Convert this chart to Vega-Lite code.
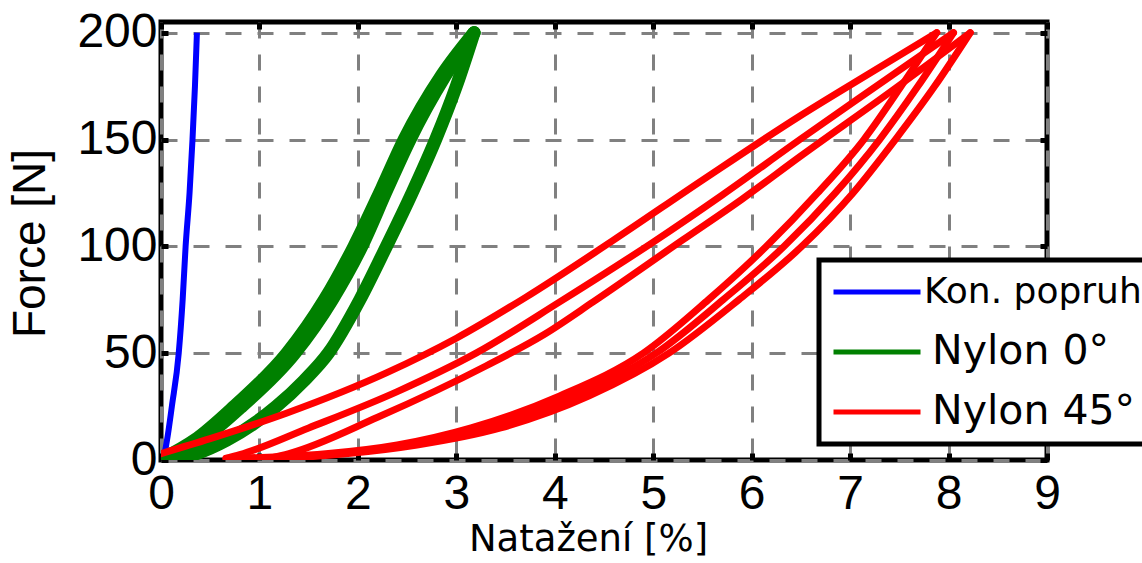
{
  "$schema": "https://vega.github.io/schema/vega-lite/v6.json",
  "width": 886,
  "height": 438,
  "autosize": {"type": "none"},
  "padding": {"left": 161, "top": 22, "right": 95, "bottom": 103},
  "background": "white",
  "data": {"values": [
    {"s":"Kon. popruh","g":"b","i":0,"x":0,"y":0},
    {"s":"Kon. popruh","g":"b","i":1,"x":0.03,"y":2},
    {"s":"Kon. popruh","g":"b","i":2,"x":0.06,"y":9},
    {"s":"Kon. popruh","g":"b","i":3,"x":0.11,"y":25},
    {"s":"Kon. popruh","g":"b","i":4,"x":0.18,"y":50},
    {"s":"Kon. popruh","g":"b","i":5,"x":0.22,"y":75},
    {"s":"Kon. popruh","g":"b","i":6,"x":0.25,"y":100},
    {"s":"Kon. popruh","g":"b","i":7,"x":0.29,"y":125},
    {"s":"Kon. popruh","g":"b","i":8,"x":0.32,"y":150},
    {"s":"Kon. popruh","g":"b","i":9,"x":0.345,"y":175},
    {"s":"Kon. popruh","g":"b","i":10,"x":0.365,"y":200},

    {"s":"Nylon 0°","g":"gL","i":0,"x":0.13,"y":0},
    {"s":"Nylon 0°","g":"gL","i":1,"x":0.3,"y":2},
    {"s":"Nylon 0°","g":"gL","i":2,"x":0.67,"y":9.3},
    {"s":"Nylon 0°","g":"gL","i":3,"x":1.17,"y":25},
    {"s":"Nylon 0°","g":"gL","i":4,"x":1.45,"y":37},
    {"s":"Nylon 0°","g":"gL","i":5,"x":1.7,"y":50},
    {"s":"Nylon 0°","g":"gL","i":6,"x":2.02,"y":75},
    {"s":"Nylon 0°","g":"gL","i":7,"x":2.29,"y":100},
    {"s":"Nylon 0°","g":"gL","i":8,"x":2.55,"y":125},
    {"s":"Nylon 0°","g":"gL","i":9,"x":2.79,"y":150},
    {"s":"Nylon 0°","g":"gL","i":10,"x":3.0,"y":175},
    {"s":"Nylon 0°","g":"gL","i":11,"x":3.18,"y":200},

    {"s":"Nylon 0°","g":"gA","i":0,"x":3.18,"y":200},
    {"s":"Nylon 0°","g":"gA","i":1,"x":2.85,"y":180},
    {"s":"Nylon 0°","g":"gA","i":2,"x":2.47,"y":150},
    {"s":"Nylon 0°","g":"gA","i":3,"x":2.24,"y":127},
    {"s":"Nylon 0°","g":"gA","i":4,"x":1.96,"y":100},
    {"s":"Nylon 0°","g":"gA","i":5,"x":1.66,"y":75},
    {"s":"Nylon 0°","g":"gA","i":6,"x":1.28,"y":50},
    {"s":"Nylon 0°","g":"gA","i":7,"x":0.74,"y":25},
    {"s":"Nylon 0°","g":"gA","i":8,"x":0.34,"y":9.3},
    {"s":"Nylon 0°","g":"gA","i":9,"x":0.03,"y":1},

    {"s":"Nylon 0°","g":"gB","i":0,"x":3.18,"y":200},
    {"s":"Nylon 0°","g":"gB","i":1,"x":2.89,"y":180},
    {"s":"Nylon 0°","g":"gB","i":2,"x":2.53,"y":150},
    {"s":"Nylon 0°","g":"gB","i":3,"x":2.30,"y":127},
    {"s":"Nylon 0°","g":"gB","i":4,"x":2.04,"y":100},
    {"s":"Nylon 0°","g":"gB","i":5,"x":1.74,"y":75},
    {"s":"Nylon 0°","g":"gB","i":6,"x":1.36,"y":50},
    {"s":"Nylon 0°","g":"gB","i":7,"x":0.82,"y":25},
    {"s":"Nylon 0°","g":"gB","i":8,"x":0.41,"y":9.3},
    {"s":"Nylon 0°","g":"gB","i":9,"x":0.08,"y":1},

    {"s":"Nylon 45°","g":"r1a","i":0,"x":0,"y":3},
    {"s":"Nylon 45°","g":"r1a","i":1,"x":0.5,"y":10},
    {"s":"Nylon 45°","g":"r1a","i":2,"x":1.28,"y":22},
    {"s":"Nylon 45°","g":"r1a","i":3,"x":2.3,"y":41},
    {"s":"Nylon 45°","g":"r1a","i":4,"x":3.0,"y":57},
    {"s":"Nylon 45°","g":"r1a","i":5,"x":3.7,"y":76},
    {"s":"Nylon 45°","g":"r1a","i":6,"x":4.6,"y":103},
    {"s":"Nylon 45°","g":"r1a","i":7,"x":5.5,"y":131},
    {"s":"Nylon 45°","g":"r1a","i":8,"x":6.49,"y":161},
    {"s":"Nylon 45°","g":"r1a","i":9,"x":7.2,"y":181},
    {"s":"Nylon 45°","g":"r1a","i":10,"x":7.88,"y":200},
    {"s":"Nylon 45°","g":"r1b","i":0,"x":7.88,"y":200},
    {"s":"Nylon 45°","g":"r1b","i":1,"x":7.52,"y":175},
    {"s":"Nylon 45°","g":"r1b","i":2,"x":7.14,"y":150},
    {"s":"Nylon 45°","g":"r1b","i":3,"x":6.67,"y":125},
    {"s":"Nylon 45°","g":"r1b","i":4,"x":6.15,"y":100},
    {"s":"Nylon 45°","g":"r1b","i":5,"x":5.56,"y":75},
    {"s":"Nylon 45°","g":"r1b","i":6,"x":4.9,"y":50},
    {"s":"Nylon 45°","g":"r1b","i":7,"x":4.05,"y":30},
    {"s":"Nylon 45°","g":"r1b","i":8,"x":3.15,"y":15},
    {"s":"Nylon 45°","g":"r1b","i":9,"x":2.4,"y":7},
    {"s":"Nylon 45°","g":"r1b","i":10,"x":1.7,"y":3},
    {"s":"Nylon 45°","g":"r1b","i":11,"x":1.2,"y":1.5},
    {"s":"Nylon 45°","g":"r1b","i":12,"x":0.66,"y":0.8},

    {"s":"Nylon 45°","g":"r2a","i":0,"x":0.66,"y":0.8},
    {"s":"Nylon 45°","g":"r2a","i":1,"x":0.8,"y":2.5},
    {"s":"Nylon 45°","g":"r2a","i":2,"x":1.5,"y":15},
    {"s":"Nylon 45°","g":"r2a","i":3,"x":2.4,"y":32},
    {"s":"Nylon 45°","g":"r2a","i":4,"x":3.2,"y":50},
    {"s":"Nylon 45°","g":"r2a","i":5,"x":4.05,"y":74},
    {"s":"Nylon 45°","g":"r2a","i":6,"x":5.0,"y":102},
    {"s":"Nylon 45°","g":"r2a","i":7,"x":5.7,"y":124},
    {"s":"Nylon 45°","g":"r2a","i":8,"x":6.49,"y":150},
    {"s":"Nylon 45°","g":"r2a","i":9,"x":7.3,"y":176},
    {"s":"Nylon 45°","g":"r2a","i":10,"x":8.05,"y":200},
    {"s":"Nylon 45°","g":"r2b","i":0,"x":8.05,"y":200},
    {"s":"Nylon 45°","g":"r2b","i":1,"x":7.69,"y":175},
    {"s":"Nylon 45°","g":"r2b","i":2,"x":7.30,"y":150},
    {"s":"Nylon 45°","g":"r2b","i":3,"x":6.85,"y":125},
    {"s":"Nylon 45°","g":"r2b","i":4,"x":6.33,"y":100},
    {"s":"Nylon 45°","g":"r2b","i":5,"x":5.71,"y":75},
    {"s":"Nylon 45°","g":"r2b","i":6,"x":5.03,"y":50},
    {"s":"Nylon 45°","g":"r2b","i":7,"x":4.2,"y":30},
    {"s":"Nylon 45°","g":"r2b","i":8,"x":3.3,"y":15},
    {"s":"Nylon 45°","g":"r2b","i":9,"x":2.5,"y":7},
    {"s":"Nylon 45°","g":"r2b","i":10,"x":1.8,"y":3},
    {"s":"Nylon 45°","g":"r2b","i":11,"x":1.4,"y":1.5},
    {"s":"Nylon 45°","g":"r2b","i":12,"x":1.1,"y":0.8},

    {"s":"Nylon 45°","g":"r3a","i":0,"x":1.1,"y":0.8},
    {"s":"Nylon 45°","g":"r3a","i":1,"x":1.3,"y":3},
    {"s":"Nylon 45°","g":"r3a","i":2,"x":2.2,"y":20},
    {"s":"Nylon 45°","g":"r3a","i":3,"x":3.3,"y":44},
    {"s":"Nylon 45°","g":"r3a","i":4,"x":3.9,"y":59},
    {"s":"Nylon 45°","g":"r3a","i":5,"x":4.39,"y":74},
    {"s":"Nylon 45°","g":"r3a","i":6,"x":5.3,"y":103},
    {"s":"Nylon 45°","g":"r3a","i":7,"x":5.9,"y":122},
    {"s":"Nylon 45°","g":"r3a","i":8,"x":6.49,"y":142},
    {"s":"Nylon 45°","g":"r3a","i":9,"x":7.4,"y":172},
    {"s":"Nylon 45°","g":"r3a","i":10,"x":8.22,"y":200},
    {"s":"Nylon 45°","g":"r3b","i":0,"x":8.22,"y":200},
    {"s":"Nylon 45°","g":"r3b","i":1,"x":7.86,"y":175},
    {"s":"Nylon 45°","g":"r3b","i":2,"x":7.46,"y":150},
    {"s":"Nylon 45°","g":"r3b","i":3,"x":7.03,"y":125},
    {"s":"Nylon 45°","g":"r3b","i":4,"x":6.51,"y":100},
    {"s":"Nylon 45°","g":"r3b","i":5,"x":5.87,"y":75},
    {"s":"Nylon 45°","g":"r3b","i":6,"x":5.16,"y":50},
    {"s":"Nylon 45°","g":"r3b","i":7,"x":4.35,"y":30},
    {"s":"Nylon 45°","g":"r3b","i":8,"x":3.45,"y":15},
    {"s":"Nylon 45°","g":"r3b","i":9,"x":2.6,"y":7},
    {"s":"Nylon 45°","g":"r3b","i":10,"x":1.9,"y":3},
    {"s":"Nylon 45°","g":"r3b","i":11,"x":1.5,"y":1.5},
    {"s":"Nylon 45°","g":"r3b","i":12,"x":1.25,"y":0.8}
  ]},
  "layer": [
    {
      "transform": [{"filter": "datum.s === 'Kon. popruh'"}],
      "mark": {"type": "line", "interpolate": "monotone", "strokeWidth": 6, "strokeJoin": "round", "strokeCap": "butt", "clip": true},
      "encoding": {
        "x": {"field": "x", "type": "quantitative", "scale": {"domain": [0, 9], "nice": false, "zero": false},
          "axis": {"orient": "bottom", "values": [0,1,2,3,4,5,6,7,8,9], "labelPadding": 17, "labelBaseline": "top", "labelFlush": false,
            "title": "Natažení [%]", "titleFont": "DejaVu Sans", "titleFontSize": 37, "titleFontWeight": "normal",
            "titleX": 427, "titleY": 90, "titleBaseline": "alphabetic", "titleAlign": "center"}},
        "y": {"field": "y", "type": "quantitative", "scale": {"domain": [0, 205], "nice": false, "zero": false},
          "axis": {"orient": "left", "values": [0,50,100,150,200], "labelPadding": 11, "labelBaseline": "middle", "labelFlush": false,
            "title": "Force [N]", "titleFont": "Liberation Sans", "titleFontSize": 46, "titleFontWeight": "normal",
            "titleAngle": -90, "titleX": -131, "titleY": 221, "titleBaseline": "middle", "titleAlign": "center"}},
        "color": {"field": "s", "type": "nominal",
          "scale": {"domain": ["Kon. popruh", "Nylon 0°", "Nylon 45°"], "range": ["#0000ff", "#008000", "#ff0000"]},
          "legend": {"orient": "none", "legendX": 658, "legendY": 238, "title": null,
            "symbolType": "stroke", "symbolSize": 7569, "symbolStrokeWidth": 5, "symbolOffset": 2,
            "labelFont": "DejaVu Sans", "labelFontSize": 41, "labelColor": "black", "labelOffset": 1, "labelLimit": 600,
            "padding": 10, "clipHeight": 44, "rowPadding": 16, "strokeColor": "black", "fillColor": "white",
            "encode": {
              "legend": {"update": {"strokeWidth": {"value": 5}}},
              "symbols": {"update": {"strokeWidth": {"value": 5}}},
              "labels": {"update": {
                "fontSize": [{"test": "datum.index === 0", "value": 36}, {"value": 41}],
                "dx": [{"test": "datum.index === 0", "value": 0}, {"value": 8}]
              }}
            }}},
        "detail": {"field": "g", "type": "nominal"},
        "order": {"field": "i", "type": "quantitative"}
      }
    },
    {
      "transform": [{"filter": "datum.s === 'Nylon 0°'"}],
      "mark": {"type": "line", "interpolate": "monotone", "strokeWidth": 13, "strokeJoin": "round", "strokeCap": "round", "clip": true},
      "encoding": {
        "x": {"field": "x", "type": "quantitative", "axis": null},
        "y": {"field": "y", "type": "quantitative", "axis": null},
        "color": {"field": "s", "type": "nominal"},
        "detail": {"field": "g", "type": "nominal"},
        "order": {"field": "i", "type": "quantitative"}
      }
    },
    {
      "transform": [{"filter": "datum.s === 'Nylon 45°'"}],
      "mark": {"type": "line", "interpolate": "monotone", "strokeWidth": 7, "strokeJoin": "round", "strokeCap": "round", "clip": true},
      "encoding": {
        "x": {"field": "x", "type": "quantitative", "axis": null},
        "y": {"field": "y", "type": "quantitative", "axis": null},
        "color": {"field": "s", "type": "nominal"},
        "detail": {"field": "g", "type": "nominal"},
        "order": {"field": "i", "type": "quantitative"}
      }
    },
    {
      "mark": {"type": "point", "opacity": 0},
      "encoding": {
        "x": {"field": "x", "type": "quantitative",
          "axis": {"orient": "top", "values": [0,1,2,3,4,5,6,7,8,9], "labels": false, "grid": false, "title": null}},
        "y": {"field": "y", "type": "quantitative",
          "axis": {"orient": "right", "values": [0,50,100,150,200], "labels": false, "grid": false, "title": null}}
      }
    }
  ],
  "resolve": {"axis": {"x": "independent", "y": "independent"}},
  "config": {
    "view": {"stroke": "black", "strokeWidth": 5},
    "axis": {
      "domain": false, "grid": true, "gridColor": "#808080", "gridWidth": 3, "gridDash": [16, 16],
      "ticks": true, "tickColor": "black", "tickWidth": 5, "tickSize": -7,
      "labelFont": "Liberation Sans", "labelFontSize": 48, "labelColor": "black", "titleColor": "black"
    }
  }
}
